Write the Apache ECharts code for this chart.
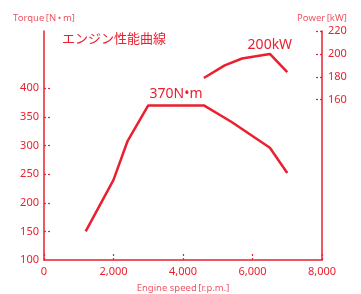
<!DOCTYPE html>
<html><head><meta charset="utf-8">
<script src="https://cdn.jsdelivr.net/npm/echarts@6/dist/echarts.min.js"></script>
<style>html,body{margin:0;padding:0;background:#fff}#c{width:361px;height:294px}</style>
</head><body><div id="c"></div>
<script>
var title = 'エンジン性能曲線';
var torqueRpm = [1200, 2000, 2400, 3000, 4600, 5400, 6500, 7000];
var torqueVal = [150, 240, 307, 370, 370, 341, 296, 252];
var powerRpm = [4600, 5200, 5700, 6500, 7000];
var powerVal = [179, 190, 196, 200, 184];
var torqueTicks = [100, 150, 200, 250, 300, 350, 400];
var powerTicks = [160, 180, 200, 220];
var torqueLabel = '370N•m';
var powerLabel = '200kW';
var torquePeakLabelAt = [3800, 370];
var powerPeakAt = [6500, 200];
var xName = 'Engine speed\u2009[r.p.m.]';
var torqueName = 'Torque\u2009[N\u2009•\u2009m]';
var powerName = 'Power\u2009[kW]';

var RED = '#e8202f';
var NAME = '#ee5564';
var FONT = '"Noto Sans", "Noto Sans CJK JP", sans-serif';
var JFONT = '"Noto Sans CJK JP", sans-serif';
var tickStyle = {color: RED, width: 1.2, type: [2, 2]};

var chart = echarts.init(document.getElementById('c'));
chart.setOption({
  animation: false,
  textStyle: {fontFamily: FONT},
  title: {text: title, left: 57, top: 27, textStyle: {color: RED, fontSize: 13, fontWeight: 'normal', fontFamily: JFONT}},
  grid: {left: 44, right: 39, top: 31, bottom: 34, outerBoundsMode: 'none', containLabel: false},
  xAxis: {
    type: 'value', min: 0, max: 8000, interval: 2000,
    name: xName, nameLocation: 'middle', nameGap: 24,
    nameTextStyle: {color: NAME, fontSize: 9.5, fontFamily: FONT},
    axisLine: {show: true, lineStyle: {color: RED, width: 1.5}},
    axisTick: {show: true, inside: true, length: 6, lineStyle: tickStyle},
    axisLabel: {color: RED, fontSize: 11, margin: 6, fontFamily: FONT,
      formatter: function (v) { return v.toLocaleString('en-US'); }},
    splitLine: {show: false}
  },
  yAxis: [{
    type: 'value', min: 100, max: 500, interval: 50, position: 'left',
    name: torqueName, nameLocation: 'end', nameGap: 8,
    nameTextStyle: {color: NAME, fontSize: 9.5, fontFamily: FONT, align: 'center'},
    axisLine: {show: true, lineStyle: {color: RED, width: 1.5}},
    axisTick: {show: true, inside: true, length: 6, lineStyle: tickStyle, customValues: torqueTicks.slice(1)},
    axisLabel: {color: RED, fontSize: 11, margin: 5, fontFamily: FONT, customValues: torqueTicks},
    splitLine: {show: false}
  }, {
    type: 'value', min: 20, max: 220, interval: 20, position: 'right',
    name: powerName, nameLocation: 'end', nameGap: 8,
    nameTextStyle: {color: NAME, fontSize: 9.5, fontFamily: FONT, align: 'center'},
    axisLine: {show: true, lineStyle: {color: RED, width: 1.5}},
    axisTick: {show: true, inside: true, length: 6, lineStyle: tickStyle, customValues: powerTicks},
    axisLabel: {color: RED, fontSize: 11, margin: 6, fontFamily: FONT, customValues: powerTicks},
    splitLine: {show: false}
  }],
  series: [{
    type: 'line', yAxisIndex: 0, symbol: 'none',
    data: torqueRpm.map(function (r, i) { return [r, torqueVal[i]]; }),
    lineStyle: {color: RED, width: 2.5},
    markPoint: {
      symbol: 'circle', symbolSize: 0,
      data: [{coord: torquePeakLabelAt}],
      label: {show: true, position: 'top', distance: 4, formatter: torqueLabel, color: RED, fontSize: 14, fontFamily: FONT}
    }
  }, {
    type: 'line', yAxisIndex: 1, symbol: 'none',
    data: powerRpm.map(function (r, i) { return [r, powerVal[i]]; }),
    lineStyle: {color: RED, width: 2.5},
    markPoint: {
      symbol: 'circle', symbolSize: 0,
      data: [{coord: powerPeakAt}],
      label: {show: true, position: 'top', distance: 2, formatter: powerLabel, color: RED, fontSize: 14, fontFamily: FONT}
    }
  }]
});
</script></body></html>
